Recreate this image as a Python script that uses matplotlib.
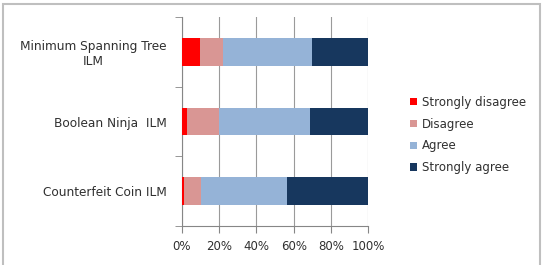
import matplotlib.pyplot as plt
from matplotlib.patches import Rectangle
import numpy as np

categories = ["Counterfeit Coin ILM", "Boolean Ninja  ILM", "Minimum Spanning Tree\nILM"]
series = ["Strongly disagree", "Disagree", "Agree", "Strongly agree"]
strongly_disagree = [1.5, 3, 10]
disagree = [9, 17, 12]
agree = [46, 49, 48]
strongly_agree = [43.5, 31, 30]
colors = ["#FF0000", "#D99694", "#95B3D7", "#17375E"]
xticks = [0, 20, 40, 60, 80, 100]

fig = plt.figure(figsize=(5.43, 2.65), dpi=100)
ax = fig.add_axes([181.7 / 543, 1 - 226 / 265, (368.3 - 181.7) / 543, (226 - 17) / 265])

y = np.arange(len(categories))
left = np.zeros(len(categories))
for name, vals, c in zip(series, [strongly_disagree, disagree, agree, strongly_agree], colors):
    ax.barh(y, vals, left=left, height=0.4, color=c, label=name, zorder=3)
    left += np.array(vals)

txt = "#303030"
ax.set_xlim(0, 100)
ax.set_ylim(-0.5, 2.5)
ax.set_xticks(xticks)
ax.set_xticklabels([f"{v}%" for v in xticks], fontsize=8.5, color=txt)
ax.set_yticks(y)
ax.set_yticklabels(categories, fontsize=8.7, color=txt, ha="right", multialignment="center")
ax.tick_params(axis="y", which="major", length=0, pad=11)
ax.set_yticks([-0.5, 0.5, 1.5, 2.5], minor=True)
ax.tick_params(axis="y", which="minor", length=5, color="#868686", direction="out")
ax.tick_params(axis="x", length=5, color="#868686", direction="out", pad=5)
ax.grid(axis="x", color="#9A9A9A", linewidth=0.8, zorder=0)
for s in ["top", "right"]:
    ax.spines[s].set_visible(False)
for s in ["left", "bottom"]:
    ax.spines[s].set_color("#868686")
    ax.spines[s].set_linewidth(0.8)

ax.legend(loc="center left", bbox_to_anchor=(405 / 543, 1 - 135 / 265), bbox_transform=fig.transFigure,
          frameon=False, fontsize=8.5, handlelength=0.6, handleheight=0.6, handletextpad=0.4,
          labelspacing=0.75, borderaxespad=0, labelcolor=txt)

fig.patches.append(Rectangle((3 / 543, -0.05), (540 - 3) / 543, 1.05 - 4 / 265,
                             transform=fig.transFigure, fill=False, edgecolor="#BFBFBF", linewidth=1.5))

fig.savefig("out.png", dpi=100)
